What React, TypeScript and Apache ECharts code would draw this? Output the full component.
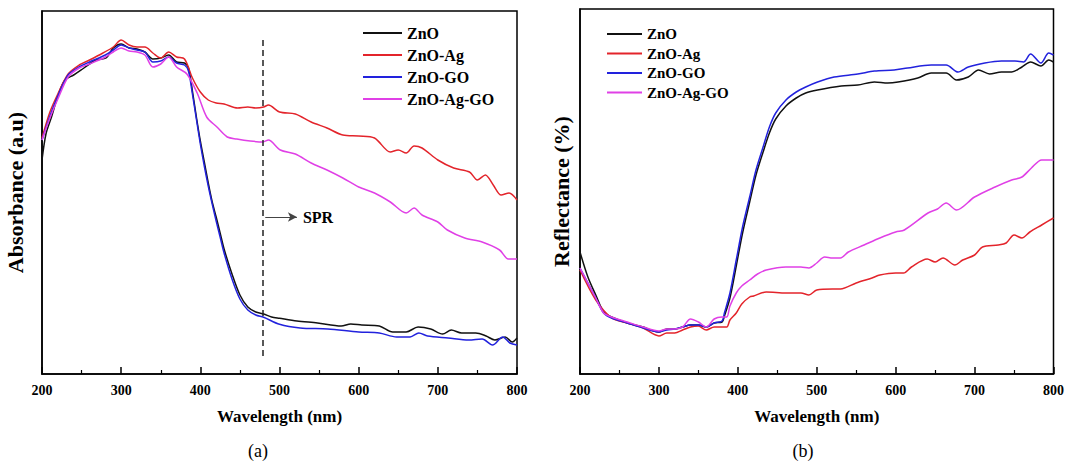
import React, { useEffect, useRef } from "react";
import * as echarts from "echarts";

// ---- Panel (a): UV-Vis absorbance (arbitrary units) ----
const absZnO: number[][] = [[200,214],[205,240],[212,257],[220,278],[229,294],[240,299],[253,306],[268,314],[281,316],[290,326],[300,330],[310,326],[320,325],[330,322],[340,315],[350,316],[360,319],[370,312],[380,311],[385,306],[390,283],[395,257],[400,233],[405,212],[410,191],[415,172],[420,157],[425,141],[430,125],[440,100],[450,79],[460,67],[470,62],[480,60],[490,57],[500,55.7],[522,53],[548,51],[578,48],[590,50],[604,49],[626,48],[643,42],[660,42],[675,47],[691,45],[706,40],[717,44],[730,41],[748,41],[761,38],[772,34],[785,37],[794,32],[800,36]];
const absZnOAg: number[][] = [[200,236],[210,262],[220,280],[233,300],[247,309],[260,314],[277,321],[290,327],[300,334],[310,329],[320,327],[330,327],[340,321],[350,316],[360,322],[370,317],[380,315],[390,296],[400,282],[410,274],[420,271],[430,270],[447,266],[460,267],[470,266],[480,267],[486,269],[500,262],[520,260],[540,252],[560,246],[580,239],[600,238],[620,236],[640,222],[650,224],[660,221],[670,228],[680,226],[700,214],[720,206],[740,202],[750,194],[760,199],[770,189],[780,179],[790,181],[800,174]];
const absZnOGO: number[][] = [[200,234],[210,258],[220,278],[233,299],[247,307],[260,312],[280,319],[290,324],[300,329],[310,326],[320,324],[330,322],[340,312],[350,313],[360,317],[370,311],[380,309],[385,303],[390,280],[395,255],[400,230],[405,208],[410,188],[415,170],[420,153],[425,137],[430,121],[440,95],[450,75],[460,64],[470,59],[480,56.7],[500,49.7],[526,46],[561,45],[600,42],[626,41],[648,37],[665,37],[676,41],[687,38],[713,36],[739,34],[756,35],[769,29],[782,37],[791,31],[800,29]];
const absZnOAgGO: number[][] = [[200,234],[210,256],[220,275],[233,297],[247,306],[260,310],[280,317],[290,322],[300,326],[310,323],[320,322],[330,319],[340,307],[350,310],[360,317],[370,307],[383,300],[396,281],[408,257],[421,247],[434,237],[446,235],[463,233],[479,232],[486,234],[501,224],[520,220],[540,211],[560,204],[580,196],[600,187],[620,181],[640,172],[660,161],[670,166],[680,159],[700,152],[712,144],[734,136],[756,132],[778,124],[789,115],[800,115]];

// SPR marker (wavelength nm, absorbance a.u.)
const sprLineX = 479;
const sprLineY = [18, 334];
const sprArrow = [[482, 157], [522, 157]];

// ---- Panel (b): diffuse reflectance ----
const refZnO: number[][] = [[200,122],[210,97],[220,79],[230,62],[240,57],[260,51],[280,47],[290,44],[300,42],[310,45],[320,45],[330,47],[340,49],[350,49],[360,47],[370,51],[380,52],[383,58],[390,76],[398,108],[406,141],[415,172],[423,199],[432,222],[440,241],[448,255],[461,268],[474,276],[486,281],[501,284],[531,288],[552,289],[573,292],[590,291],[603,292],[628,296],[645,301],[664,301],[677,294],[692,297],[705,304],[719,300],[734,302],[747,302],[760,307],[771,312],[784,308],[794,314],[800,312]];
const refZnOAg: number[][] = [[200,104],[220,74],[240,56],[260,51],[280,46],[300,38],[310,41],[320,41],[330,44],[340,47],[350,48],[360,44],[370,47],[380,47],[386,47],[390,54],[398,61],[405,70],[415,77],[420,78],[436,82],[461,81],[480,81],[490,79],[500,84],[520,85],[530,85],[550,91],[570,96],[580,99],[600,101],[610,101],[620,107],[640,115],[650,112],[660,116],[675,109],[685,114],[700,119],[710,127],[730,129],[740,131],[750,139],[760,136],[770,142],[785,149],[800,156]];
const refZnOGO: number[][] = [[200,106],[210,91],[220,76],[230,61],[240,56],[260,51],[280,46],[300,42],[310,44],[320,45],[330,47],[340,49],[350,49],[360,47],[370,51],[380,53],[383,61],[390,81],[398,114],[406,147],[415,177],[423,204],[432,227],[440,247],[448,261],[461,274],[474,282],[486,287],[501,292],[522,297],[552,300],[573,303],[598,304],[615,306],[645,309],[664,309],[679,302],[692,307],[713,311],[734,313],[751,313],[762,312],[771,320],[784,311],[794,321],[800,319]];
const refZnOAgGO: number[][] = [[200,106],[210,91],[220,76],[230,61],[240,57],[260,52],[280,47],[300,43],[310,45],[320,45],[330,47],[340,55],[350,52],[360,47],[370,55],[380,57],[386,57],[390,68],[398,81],[405,88],[415,94],[425,100],[436,104],[461,107],[480,107],[490,106],[500,111],[510,117],[520,116],[530,116],[540,122],[560,129],[580,136],[600,142],[611,144],[641,161],[653,165],[664,171],[677,164],[700,177],[726,187],[747,194],[760,197],[772,206],[785,214],[800,214]];

const seriesNames = ["ZnO", "ZnO-Ag", "ZnO-GO", "ZnO-Ag-GO"];
const seriesColors = ["#111111", "#e3242b", "#2222dd", "#e040e6"];
const xTicks = { min: 200, max: 800, interval: 100 };

const FONT = '"Liberation Serif", "Times New Roman", serif';

export default function App() {
  const ref = useRef<HTMLDivElement>(null);
  useEffect(() => {
    if (!ref.current) return;
    const chart = echarts.init(ref.current, null, { renderer: "svg" });

    const axisLineStyle = { color: "#000", width: 1.5 };
    const makeX = (gridIndex: number) => ({
      gridIndex,
      type: "value",
      min: xTicks.min,
      max: xTicks.max,
      interval: xTicks.interval,
      axisLine: { show: true, lineStyle: axisLineStyle },
      axisTick: { show: true, inside: true, length: 7, lineStyle: { color: "#000", width: 1.5 } },
      minorTick: { show: true, splitNumber: 2, length: 4, lineStyle: { color: "#000", width: 1.2 } },
      axisLabel: { margin: 9, color: "#000", fontFamily: FONT, fontWeight: "bold", fontSize: 14, showMinLabel: true, showMaxLabel: true },
      splitLine: { show: false },
      name: "Wavelength (nm)",
      nameLocation: "middle",
      nameGap: 34,
      nameTextStyle: { color: "#000", fontFamily: FONT, fontWeight: "bold", fontSize: 17 },
    });
    const makeY = (gridIndex: number, max: number, name: string, nameGap: number) => ({
      gridIndex,
      type: "value",
      min: 0,
      max,
      axisLine: { show: true, lineStyle: axisLineStyle },
      axisTick: { show: false },
      axisLabel: { show: false },
      splitLine: { show: false },
      name,
      nameLocation: "middle",
      nameGap,
      nameTextStyle: { color: "#000", fontFamily: FONT, fontWeight: "bold", fontSize: 22 },
    });

    const lineSeries = (name: string, data: number[][], idx: number, extra: any = {}) => ({
      name,
      type: "line",
      xAxisIndex: idx,
      yAxisIndex: idx,
      data,
      showSymbol: false,
      symbol: "none",
      smooth: 0.3,
      lineStyle: { width: 1.5 },
      itemStyle: { color: seriesColors[seriesNames.indexOf(name)] },
      color: seriesColors[seriesNames.indexOf(name)],
      z: 3,
      ...extra,
    });

    const option: any = {
      animation: false,
      backgroundColor: "#fff",
      grid: [
        { left: 42, top: 11, width: 475, height: 363, show: true, borderColor: "#000", borderWidth: 1.5 },
        { left: 580, top: 9, width: 476, height: 365, show: true, borderColor: "#000", borderWidth: 1.5 },
      ],
      xAxis: [makeX(0), makeX(1)],
      yAxis: [makeY(0, 363, "Absorbance (a.u)", 16), makeY(1, 365, "Reflectance (%)", 8)],
      legend: [
        {
          data: seriesNames,
          orient: "vertical",
          left: 358,
          top: 20,
          icon: "rect",
          itemWidth: 39,
          itemHeight: 2,
          itemGap: 6,
          selectedMode: false,
          textStyle: { color: "#000", fontFamily: FONT, fontWeight: "bold", fontSize: 16, lineHeight: 16 },
        },
        {
          data: seriesNames,
          orient: "vertical",
          left: 602,
          top: 21.5,
          icon: "rect",
          itemWidth: 35,
          itemHeight: 2,
          itemGap: 4.5,
          selectedMode: false,
          textStyle: { color: "#000", fontFamily: FONT, fontWeight: "bold", fontSize: 15, lineHeight: 15 },
        },
      ],
      series: [
        lineSeries("ZnO", absZnO, 0, {
          markLine: {
            silent: true,
            symbol: ["none", "none"],
            label: { show: false },
            lineStyle: { color: "#222", type: [6, 4], width: 1.5 },
            data: [[{ coord: [sprLineX, sprLineY[0]] }, { coord: [sprLineX, sprLineY[1]] }]],
          },
        }),
        lineSeries("ZnO-Ag", absZnOAg, 0),
        lineSeries("ZnO-GO", absZnOGO, 0),
        lineSeries("ZnO-Ag-GO", absZnOAgGO, 0, {
          markLine: {
            silent: true,
            symbol: ["none", "arrow"],
            symbolSize: [7, 9],
            lineStyle: { color: "#444", type: "solid", width: 1 },
            label: {
              show: true,
              position: "end",
              formatter: "SPR",
              distance: 6,
              color: "#000",
              fontFamily: FONT,
              fontWeight: "bold",
              fontSize: 16,
            },
            data: [[{ coord: sprArrow[0] }, { coord: sprArrow[1] }]],
          },
        }),
        lineSeries("ZnO", refZnO, 1),
        lineSeries("ZnO-Ag", refZnOAg, 1),
        lineSeries("ZnO-GO", refZnOGO, 1),
        lineSeries("ZnO-Ag-GO", refZnOAgGO, 1),
      ],
      graphic: [
        { type: "text", x: 258, y: 451, style: { text: "(a)", font: `18px ${FONT}`, fill: "#000", textAlign: "center", textVerticalAlign: "middle" } },
        { type: "text", x: 803, y: 451, style: { text: "(b)", font: `18px ${FONT}`, fill: "#000", textAlign: "center", textVerticalAlign: "middle" } },
      ],
    };
    chart.setOption(option);
    return () => chart.dispose();
  }, []);
  return (
    <div
      ref={ref}
      style={{ position: "fixed", left: 0, top: 0, width: 1067, height: 462, background: "#fff" }}
    />
  );
}
